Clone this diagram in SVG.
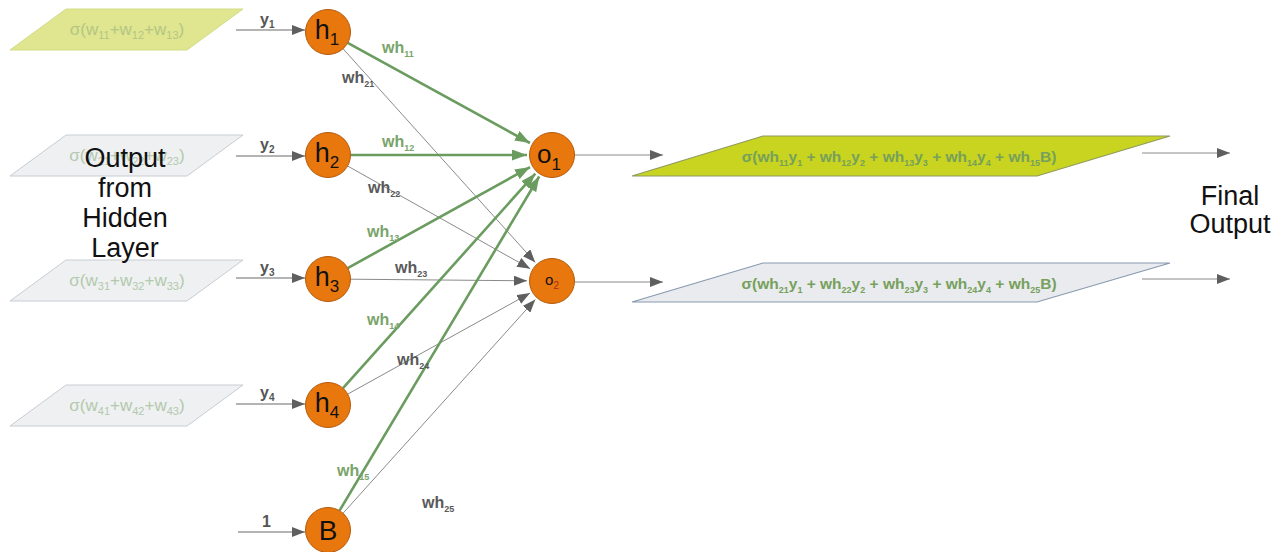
<svg xmlns="http://www.w3.org/2000/svg" width="1284" height="552" viewBox="0 0 1284 552">
<style>
.bg{fill:#ffffff}
.inp-y{fill:#dfe68f;stroke:#d3dc86;stroke-width:1}
.inp-g{fill:#eef0f1;stroke:#c8cdd2;stroke-width:1}
.out-y{fill:#c8d41f;stroke:#8e9a60;stroke-width:1.2}
.out-g{fill:#e9ebee;stroke:#8899b0;stroke-width:1.2}
.itxt{font-family:"Liberation Sans",Arial,sans-serif;font-size:17px;text-anchor:middle}
.itxt-y{fill:#b4c585}
.itxt-g{fill:#b3c9ad}
.otxt{font-family:"Liberation Sans",Arial,sans-serif;font-size:15.5px;font-weight:bold;fill:#76a05c;text-anchor:middle}
.big{font-family:"Liberation Sans",Arial,sans-serif;font-size:27px;fill:#111;text-anchor:middle}
.node{fill:#e8770e;stroke:#b35a0c;stroke-width:1}
.ntxt{font-family:"Liberation Sans",Arial,sans-serif;fill:#111;text-anchor:middle}
.g{stroke:#6b9c5f;stroke-width:2.6;fill:none}
.k{stroke:#8a8a8a;stroke-width:1;fill:none}
.in{stroke:#6a6a6a;stroke-width:1.2;fill:none}
.lblg{font-family:"Liberation Sans",Arial,sans-serif;font-size:16px;font-weight:bold;fill:#79a46a}
.lblk{font-family:"Liberation Sans",Arial,sans-serif;font-size:16px;font-weight:bold;fill:#5a5a5a}
.ylbl{font-family:"Liberation Sans",Arial,sans-serif;font-size:16px;font-weight:bold;fill:#555}
</style>
<defs>
<marker id="ag" markerUnits="userSpaceOnUse" markerWidth="15" markerHeight="11" refX="15" refY="5.5" orient="auto">
<path d="M0,0 L15,5.5 L0,11 Z" fill="#6b9c5f"/>
</marker>
<marker id="ak" markerUnits="userSpaceOnUse" markerWidth="13" markerHeight="10" refX="13" refY="5" orient="auto">
<path d="M0,0 L13,5 L0,10 Z" fill="#5f5f5f"/>
</marker>
</defs>
<rect class="bg" x="0" y="0" width="1284" height="552"/>

<g id="in1">
<polygon class="inp-y" points="66,9 243,9 187,50 10,50"/>
<text class="itxt itxt-y" x="127" y="35">σ(w<tspan font-size="11" dy="4">11</tspan><tspan dy="-4">+w</tspan><tspan font-size="11" dy="4">12</tspan><tspan dy="-4">+w</tspan><tspan font-size="11" dy="4">13</tspan><tspan dy="-4">)</tspan></text>
</g>
<g id="in2">
<polygon class="inp-g" points="66,135 243,135 187,176 10,176"/>
<text class="itxt itxt-g" x="127" y="161">σ(w<tspan font-size="11" dy="4">21</tspan><tspan dy="-4">+w</tspan><tspan font-size="11" dy="4">22</tspan><tspan dy="-4">+w</tspan><tspan font-size="11" dy="4">23</tspan><tspan dy="-4">)</tspan></text>
</g>
<g id="in3">
<polygon class="inp-g" points="66,260 243,260 187,301 10,301"/>
<text class="itxt itxt-g" x="127" y="286">σ(w<tspan font-size="11" dy="4">31</tspan><tspan dy="-4">+w</tspan><tspan font-size="11" dy="4">32</tspan><tspan dy="-4">+w</tspan><tspan font-size="11" dy="4">33</tspan><tspan dy="-4">)</tspan></text>
</g>
<g id="in4">
<polygon class="inp-g" points="66,385 243,385 187,426 10,426"/>
<text class="itxt itxt-g" x="127" y="411">σ(w<tspan font-size="11" dy="4">41</tspan><tspan dy="-4">+w</tspan><tspan font-size="11" dy="4">42</tspan><tspan dy="-4">+w</tspan><tspan font-size="11" dy="4">43</tspan><tspan dy="-4">)</tspan></text>
</g>

<g id="hidden-label">
<text class="big" x="125" y="167">Output</text>
<text class="big" x="125" y="197">from</text>
<text class="big" x="125" y="227">Hidden</text>
<text class="big" x="125" y="257">Layer</text>
</g>

<g id="connectors">
<line class="in" x1="236" y1="30" x2="305" y2="30" marker-end="url(#ak)"/>
<line class="in" x1="236" y1="156" x2="305" y2="156" marker-end="url(#ak)"/>
<line class="in" x1="236" y1="278" x2="305" y2="278" marker-end="url(#ak)"/>
<line class="in" x1="236" y1="404" x2="305" y2="404" marker-end="url(#ak)"/>
<line class="in" x1="238" y1="532" x2="305" y2="532" marker-end="url(#ak)"/>

<line class="k" x1="343" y1="48.7" x2="535.3" y2="262.4" marker-end="url(#ak)"/>
<line class="k" x1="347.6" y1="166" x2="530.2" y2="268.7" marker-end="url(#ak)"/>
<line class="k" x1="350.5" y1="279.2" x2="527" y2="280.8" marker-end="url(#ak)"/>
<line class="k" x1="347.7" y1="394.1" x2="530.1" y2="293.1" marker-end="url(#ak)"/>
<line class="k" x1="343" y1="513.3" x2="535.3" y2="299.6" marker-end="url(#ak)"/>

<line class="g" x1="347.7" y1="42.8" x2="530" y2="143" marker-end="url(#ag)"/>
<line class="g" x1="350.5" y1="155" x2="527" y2="155" marker-end="url(#ag)"/>
<line class="g" x1="347.7" y1="268.1" x2="530.1" y2="167.1" marker-end="url(#ag)"/>
<line class="g" x1="343" y1="388.2" x2="535.3" y2="173.6" marker-end="url(#ag)"/>
<line class="g" x1="339.5" y1="510.7" x2="539.2" y2="176.5" marker-end="url(#ag)"/>

<line class="k" x1="575" y1="155" x2="663" y2="155" marker-end="url(#ak)"/>
<line class="k" x1="575" y1="282" x2="663" y2="282" marker-end="url(#ak)"/>
<line class="k" x1="1142" y1="153" x2="1230" y2="153" marker-end="url(#ak)"/>
<line class="k" x1="1142" y1="279" x2="1230" y2="279" marker-end="url(#ak)"/>

<text class="ylbl" x="260" y="25">y<tspan font-size="10" dy="3">1</tspan></text>
<text class="ylbl" x="260" y="150">y<tspan font-size="10" dy="3">2</tspan></text>
<text class="ylbl" x="260" y="273">y<tspan font-size="10" dy="3">3</tspan></text>
<text class="ylbl" x="260" y="398">y<tspan font-size="10" dy="3">4</tspan></text>
<text class="ylbl" x="262" y="527">1</text>

<text class="lblg" x="382" y="53">wh<tspan font-size="9" dy="4">11</tspan></text>
<text class="lblk" x="342" y="83">wh<tspan font-size="9" dy="4">21</tspan></text>
<text class="lblg" x="382" y="147">wh<tspan font-size="9" dy="4">12</tspan></text>
<text class="lblk" x="368" y="193">wh<tspan font-size="9" dy="4">22</tspan></text>
<text class="lblg" x="367" y="237">wh<tspan font-size="9" dy="4">13</tspan></text>
<text class="lblk" x="395" y="273">wh<tspan font-size="9" dy="4">23</tspan></text>
<text class="lblg" x="367" y="325">wh<tspan font-size="9" dy="4">14</tspan></text>
<text class="lblk" x="397" y="365">wh<tspan font-size="9" dy="4">24</tspan></text>
<text class="lblg" x="337" y="476">wh<tspan font-size="9" dy="4">15</tspan></text>
<text class="lblk" x="422" y="508">wh<tspan font-size="9" dy="4">25</tspan></text>
</g>

<g id="h1"><circle class="node" cx="328" cy="32" r="22.5"/><text class="ntxt" x="327" y="39" font-size="27">h<tspan font-size="17" dy="6">1</tspan></text></g>
<g id="h2"><circle class="node" cx="328" cy="155" r="22.5"/><text class="ntxt" x="327" y="162" font-size="27">h<tspan font-size="17" dy="6">2</tspan></text></g>
<g id="h3"><circle class="node" cx="328" cy="279" r="22.5"/><text class="ntxt" x="327" y="286" font-size="27">h<tspan font-size="17" dy="6">3</tspan></text></g>
<g id="h4"><circle class="node" cx="328" cy="405" r="22.5"/><text class="ntxt" x="327" y="412" font-size="27">h<tspan font-size="17" dy="6">4</tspan></text></g>
<g id="B"><circle class="node" cx="328" cy="530" r="22.5"/><text class="ntxt" x="328" y="540" font-size="28">B</text></g>
<g id="o1"><circle class="node" cx="552" cy="155" r="22.5"/><text class="ntxt" x="549" y="163" font-size="26">o<tspan font-size="17" dy="7">1</tspan></text></g>
<g id="o2"><circle class="node" cx="552" cy="281" r="22.5"/><text class="ntxt" x="552" y="285" font-size="15" fill="#333">o<tspan font-size="10" dy="4" fill="#b3261a">2</tspan></text></g>

<g id="out1">
<polygon class="out-y" points="763,136 1170,136 1037,176 632,176"/>
<text class="otxt" x="899" y="162">σ(wh<tspan font-size="9" dy="4">11</tspan><tspan dy="-4">y</tspan><tspan font-size="9" dy="4">1</tspan><tspan dy="-4"> + wh</tspan><tspan font-size="9" dy="4">12</tspan><tspan dy="-4">y</tspan><tspan font-size="9" dy="4">2</tspan><tspan dy="-4"> + wh</tspan><tspan font-size="9" dy="4">13</tspan><tspan dy="-4">y</tspan><tspan font-size="9" dy="4">3</tspan><tspan dy="-4"> + wh</tspan><tspan font-size="9" dy="4">14</tspan><tspan dy="-4">y</tspan><tspan font-size="9" dy="4">4</tspan><tspan dy="-4"> + wh</tspan><tspan font-size="9" dy="4">15</tspan><tspan dy="-4">B)</tspan></text>
</g>
<g id="out2">
<polygon class="out-g" points="763,263 1170,263 1037,302 632,302"/>
<text class="otxt" x="899" y="289">σ(wh<tspan font-size="9" dy="4">21</tspan><tspan dy="-4">y</tspan><tspan font-size="9" dy="4">1</tspan><tspan dy="-4"> + wh</tspan><tspan font-size="9" dy="4">22</tspan><tspan dy="-4">y</tspan><tspan font-size="9" dy="4">2</tspan><tspan dy="-4"> + wh</tspan><tspan font-size="9" dy="4">23</tspan><tspan dy="-4">y</tspan><tspan font-size="9" dy="4">3</tspan><tspan dy="-4"> + wh</tspan><tspan font-size="9" dy="4">24</tspan><tspan dy="-4">y</tspan><tspan font-size="9" dy="4">4</tspan><tspan dy="-4"> + wh</tspan><tspan font-size="9" dy="4">25</tspan><tspan dy="-4">B)</tspan></text>
</g>

<g id="final-label">
<text class="big" x="1230" y="205">Final</text>
<text class="big" x="1230" y="233">Output</text>
</g>
</svg>
